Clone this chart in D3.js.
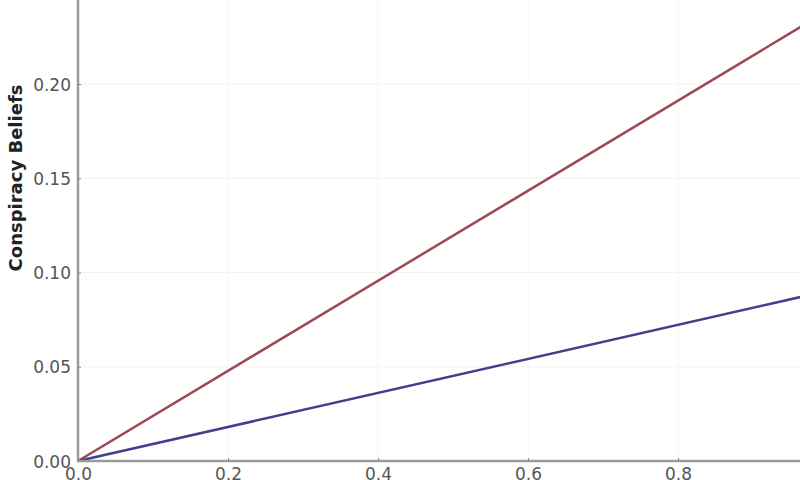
<!DOCTYPE html>
<html><head><meta charset="utf-8">
<script src="https://cdn.jsdelivr.net/npm/d3@7"></script>
<style>body{margin:0;background:#fff}svg{display:block}</style>
</head><body><svg id="c" width="800" height="480"></svg>
<script>
const xValues = [0, 1];
const highSeries = [0, 0.239];
const lowSeries = [0, 0.0903];
const yTicks = [0, 0.05, 0.10, 0.15, 0.20];
const xTicks = [0, 0.2, 0.4, 0.6, 0.8];
const yTitle = "Conspiracy Beliefs";

const svg = d3.select("#c");
const x = d3.scaleLinear().domain([0, 1]).range([78, 828]);
const y = d3.scaleLinear().domain([0, 0.25]).range([461, -10.25]);

// grid
svg.append("g").selectAll("line").data(yTicks.slice(1)).join("line")
  .attr("x1", 80).attr("x2", 800).attr("y1", d => y(d)).attr("y2", d => y(d))
  .attr("stroke", "#f2f2f2").attr("stroke-width", 1);
svg.append("g").selectAll("line").data(xTicks.slice(1)).join("line")
  .attr("y1", 0).attr("y2", 459).attr("x1", d => x(d)).attr("x2", d => x(d))
  .attr("stroke", "#f6f6f6").attr("stroke-width", 1);

const line = d3.line().x((d, i) => x(xValues[i])).y(d => y(d));
svg.append("path").datum(highSeries).attr("d", line).attr("fill", "none")
  .attr("stroke", "#9a4a50").attr("stroke-width", 2.5);
svg.append("path").datum(lowSeries).attr("d", line).attr("fill", "none")
  .attr("stroke", "#40408f").attr("stroke-width", 2.5);

const yAxis = d3.axisLeft(y).tickValues(yTicks).tickFormat(d3.format(".2f")).tickSizeInner(-3).tickSizeOuter(0).tickPadding(7);
const gy = svg.append("g").attr("transform", "translate(78,0)").call(yAxis);
const xAxis = d3.axisBottom(x).tickValues(xTicks).tickFormat(d3.format(".1f")).tickSizeInner(-3).tickSizeOuter(0).tickPadding(7);
const gx = svg.append("g").attr("transform", "translate(0,461)").call(xAxis);
[gx, gy].forEach(g => {
  g.select(".domain").attr("stroke", "#9a9a9a").attr("stroke-width", 2.5);
  g.selectAll(".tick line").attr("stroke", "#888");
  g.selectAll("text").attr("fill", "#555").attr("font-family", "DejaVu Sans, sans-serif").attr("font-size", 17);
});
gy.select(".domain").attr("d", "M0,462V0");
gx.select(".domain").attr("d", "M77,0H800");
gy.selectAll("text").attr("dy", "0.36em");

svg.append("text").attr("transform", "translate(22,178) rotate(-90)")
  .attr("text-anchor", "middle").attr("font-family", "DejaVu Sans, sans-serif")
  .attr("font-weight", "bold").attr("font-size", 18).attr("fill", "#222").text(yTitle);
</script></body></html>
